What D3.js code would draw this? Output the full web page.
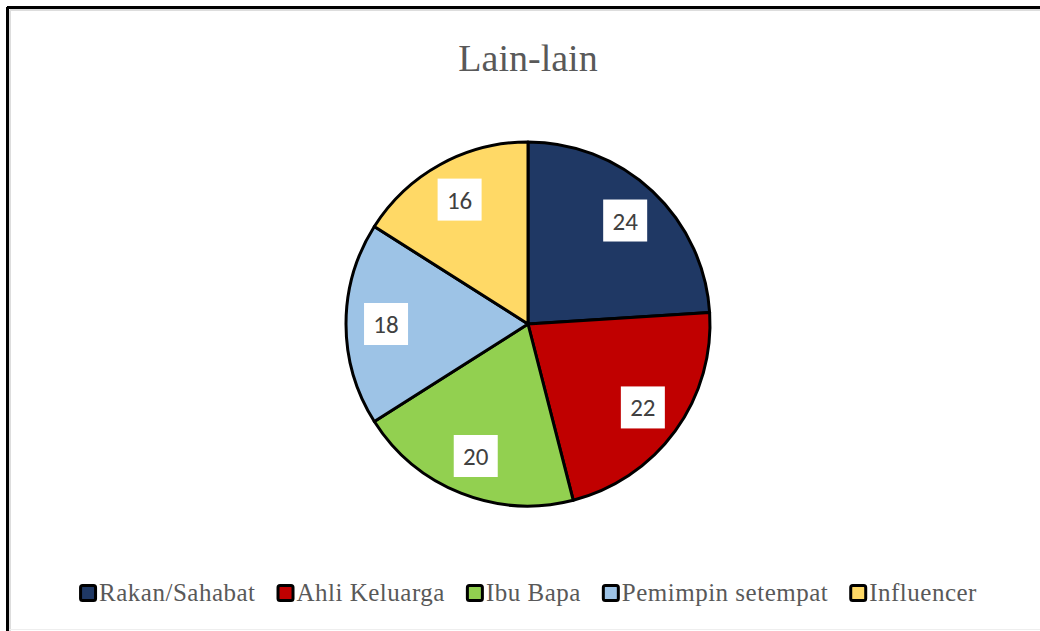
<!DOCTYPE html>
<html>
<head>
<meta charset="utf-8">
<script src="https://cdn.jsdelivr.net/npm/d3@7"></script>
<style>
  body { margin: 0; background: #fff; }
</style>
</head>
<body>
<svg id="pie" width="1040" height="631"></svg>
<script>
const categories = ["Rakan/Sahabat", "Ahli Keluarga", "Ibu Bapa", "Pemimpin setempat", "Influencer"];
const values = [24, 22, 20, 18, 16];
const colors = ["#1F3864", "#C00000", "#92D050", "#9DC3E6", "#FFD966"];
const title = "Lain-lain";

const width = 1040, height = 631;
const cx = 528, cy = 324, radius = 182;

const svg = d3.select("#pie");

// frame (top + left black edge, soft inner shadow)
svg.append("rect").attr("x", 0).attr("y", 0).attr("width", width).attr("height", height).attr("fill", "#fff");
svg.append("line").attr("x1", 10).attr("y1", 10).attr("x2", width).attr("y2", 10).attr("stroke", "#ddd").attr("stroke-width", 2);
svg.append("line").attr("x1", 10).attr("y1", 10).attr("x2", 10).attr("y2", height).attr("stroke", "#ddd").attr("stroke-width", 2);
svg.append("line").attr("x1", 7).attr("y1", 7.5).attr("x2", width).attr("y2", 7.5).attr("stroke", "#000").attr("stroke-width", 3);
svg.append("line").attr("x1", 7.5).attr("y1", 7).attr("x2", 7.5).attr("y2", height).attr("stroke", "#000").attr("stroke-width", 3);
svg.append("line").attr("x1", 9).attr("y1", 629.5).attr("x2", width).attr("y2", 629.5).attr("stroke", "#eee").attr("stroke-width", 1);

svg.append("text")
  .text(title)
  .attr("x", cx)
  .attr("y", 71)
  .attr("text-anchor", "middle")
  .style("font-family", "'Liberation Serif', 'Times New Roman', serif")
  .style("font-size", "38px")
  .style("fill", "#595959");

const pie = d3.pie().sort(null).value(d => d);
const arc = d3.arc().innerRadius(0).outerRadius(radius);
const labelArc = d3.arc().innerRadius(radius * 0.78).outerRadius(radius * 0.78);

const g = svg.append("g").attr("transform", `translate(${cx},${cy})`);

const slices = pie(values);

g.selectAll("path")
  .data(slices)
  .enter().append("path")
  .attr("d", arc)
  .attr("fill", (d, i) => colors[i])
  .attr("stroke", "#000")
  .attr("stroke-width", 3)
  .attr("stroke-linejoin", "round");

const labels = g.selectAll(".lbl")
  .data(slices)
  .enter().append("g")
  .attr("class", "lbl")
  .attr("transform", d => `translate(${labelArc.centroid(d)})`);

labels.append("rect")
  .attr("x", -22)
  .attr("y", -21)
  .attr("width", 44)
  .attr("height", 42)
  .attr("fill", "#fff");

labels.append("text")
  .text(d => d.data)
  .attr("text-anchor", "middle")
  .attr("dy", "0.36em")
  .style("font-family", "Carlito, 'Open Sans', 'Noto Sans', sans-serif")
  .style("font-size", "25px")
  .style("fill", "#404040");

// legend
const legend = svg.append("g");
const items = legend.selectAll(".item")
  .data(categories)
  .enter().append("g")
  .attr("class", "item");

items.append("rect")
  .attr("x", 1.5)
  .attr("y", -7.5)
  .attr("width", 15)
  .attr("height", 15)
  .attr("rx", 2)
  .attr("fill", (d, i) => colors[i])
  .attr("stroke", "#000")
  .attr("stroke-width", 3);

items.append("text")
  .text(d => d)
  .attr("x", 20)
  .attr("dy", "0.33em")
  .style("font-family", "'Liberation Serif', 'Times New Roman', serif")
  .style("font-size", "25px")
  .style("letter-spacing", "0.5px")
  .style("fill", "#595959");

let x = 0;
const gap = 21;
const offsets = [];
items.each(function() {
  offsets.push(x);
  const w = 20 + this.querySelector("text").getComputedTextLength();
  x += w + gap;
});
const total = x - gap;
const startX = cx - total / 2;
items.attr("transform", (d, i) => `translate(${startX + offsets[i]},593)`);
</script>
</body>
</html>
